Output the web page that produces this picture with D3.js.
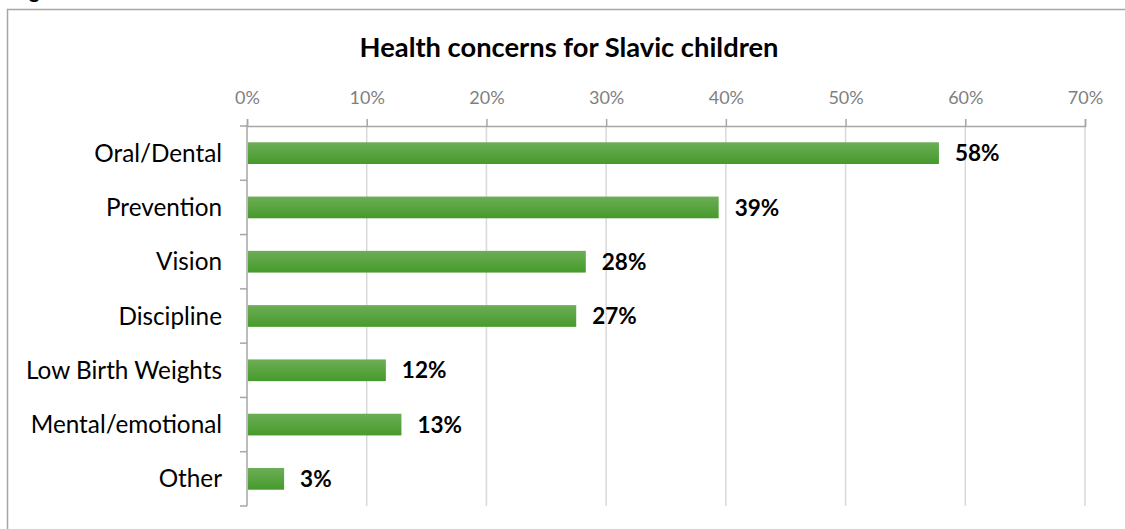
<!DOCTYPE html>
<html>
<head>
<meta charset="utf-8">
<script src="https://cdn.jsdelivr.net/npm/d3@7"></script>
<style>
  body { margin: 0; background: #fff; }
  svg { display: block; }
</style>
</head>
<body>
<svg id="chart" width="1125" height="529"></svg>
<script>
// data
const categories = ['Oral/Dental', 'Prevention', 'Vision', 'Discipline', 'Low Birth Weights', 'Mental/emotional', 'Other'];
const values = [57.8, 39.4, 28.3, 27.5, 11.6, 12.9, 3.1];
const valueLabels = ['58%', '39%', '28%', '27%', '12%', '13%', '3%'];
const xTicks = [0, 10, 20, 30, 40, 50, 60, 70];

const font = 'Lato, "Open Sans", sans-serif';
const svg = d3.select('#chart');

const plotLeft = 247, plotRight = 1085, plotTop = 126, plotBottom = 506;

const x = d3.scaleLinear().domain([0, 70]).range([plotLeft, plotRight]);
const y = d3.scaleBand().domain(categories).range([plotTop, plotBottom]).paddingInner(0.6).paddingOuter(0.3);
const yb = d3.scaleBand().domain(categories).range([plotTop, plotBottom]);

// frame around the chart (runs off the page right and bottom)
svg.append('rect')
  .attr('x', 7.5).attr('y', 9.5)
  .attr('width', 1200).attr('height', 600)
  .attr('fill', 'none').attr('stroke', '#a6a6a6').attr('stroke-width', 1.5);

// caption above the frame, only its descender shows at the page top
svg.append('text')
  .attr('x', 29).attr('y', -2)
  .attr('font-family', font).attr('font-weight', 'bold').attr('font-size', 20)
  .text('g');

const defs = svg.append('defs');
const grad = defs.append('linearGradient').attr('id', 'barGrad')
  .attr('x1', 0).attr('y1', 0).attr('x2', 0).attr('y2', 1);
grad.append('stop').attr('offset', '0%').attr('stop-color', '#6cae56');
grad.append('stop').attr('offset', '100%').attr('stop-color', '#469a2c');

// title
svg.append('text')
  .attr('x', 569).attr('y', 57)
  .attr('text-anchor', 'middle')
  .attr('font-family', font).attr('font-weight', 'bold').attr('font-size', 27.3)
  .text('Health concerns for Slavic children');

// vertical gridlines
svg.append('g').selectAll('line')
  .data(xTicks.slice(1))
  .join('line')
  .attr('x1', d => x(d)).attr('x2', d => x(d))
  .attr('y1', plotTop).attr('y2', plotBottom)
  .attr('stroke', '#d9d9d9').attr('stroke-width', 1.5);

// top axis
const xAxis = d3.axisTop(x)
  .tickValues(xTicks)
  .tickSize(7)
  .tickPadding(15)
  .tickFormat(d => d + '%');
const gx = svg.append('g').attr('transform', `translate(0,${plotTop})`).call(xAxis);
gx.select('.domain').attr('stroke', '#a6a6a6').attr('stroke-width', 1.5);
gx.selectAll('.tick line').attr('stroke', '#a6a6a6').attr('stroke-width', 1.5);
gx.selectAll('.tick text')
  .attr('fill', '#7f7f7f')
  .attr('font-family', font).attr('font-size', 18);

// left axis: line with ticks on category boundaries
const gy = svg.append('g');
gy.append('line')
  .attr('x1', plotLeft).attr('x2', plotLeft).attr('y1', plotTop).attr('y2', plotBottom)
  .attr('stroke', '#a6a6a6').attr('stroke-width', 1.5);
const bounds = categories.map(c => yb(c)).concat([plotBottom]);
gy.selectAll('line.tk')
  .data(bounds)
  .join('line')
  .attr('class', 'tk')
  .attr('x1', plotLeft - 7).attr('x2', plotLeft)
  .attr('y1', d => d).attr('y2', d => d)
  .attr('stroke', '#a6a6a6').attr('stroke-width', 1.5);

// category labels
svg.append('g').selectAll('text')
  .data(categories)
  .join('text')
  .attr('x', 222)
  .attr('y', d => yb(d) + yb.bandwidth() / 2)
  .attr('dy', '0.35em')
  .attr('text-anchor', 'end')
  .attr('font-family', font).attr('font-size', 24.3)
  .attr('fill', '#000')
  .text(d => d);

// bars
svg.append('g').selectAll('rect')
  .data(values)
  .join('rect')
  .attr('x', x(0) + 1)
  .attr('y', (d, i) => y(categories[i]))
  .attr('width', d => x(d) - x(0) - 1)
  .attr('height', y.bandwidth())
  .attr('fill', 'url(#barGrad)');

// value labels
svg.append('g').selectAll('text')
  .data(values)
  .join('text')
  .attr('x', d => x(d) + 16)
  .attr('y', (d, i) => y(categories[i]) + y.bandwidth() / 2)
  .attr('dy', '0.36em')
  .attr('font-family', font).attr('font-weight', 'bold').attr('font-size', 22.5)
  .text((d, i) => valueLabels[i]);
</script>
</body>
</html>
